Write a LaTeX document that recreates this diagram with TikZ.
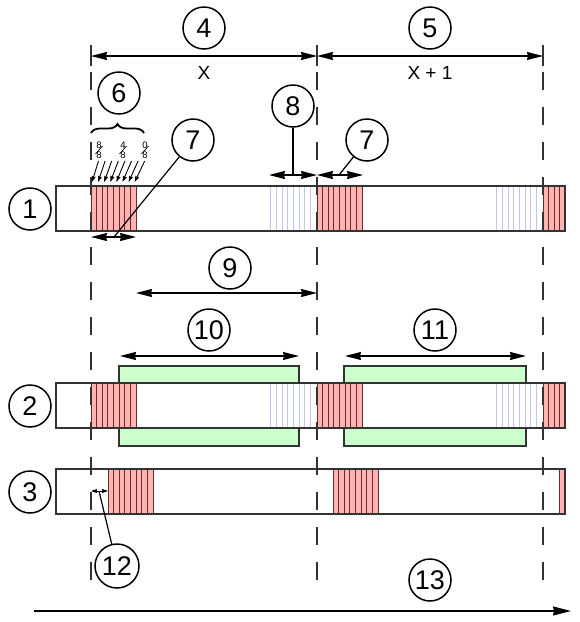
\documentclass[tikz,border=0pt]{standalone}
\usepackage{fontspec}
\setmainfont{Liberation Sans}
\usetikzlibrary{arrows.meta,decorations.pathreplacing,calc}
\definecolor{redfill}{HTML}{FFB3B3}
\definecolor{redline}{HTML}{6B2A2A}
\definecolor{bluel}{HTML}{C4C4EE}
\definecolor{greenfill}{HTML}{CCFFCC}
\definecolor{edgec}{HTML}{333333}
\newcommand\redstripes[5]{\foreach \k in {1,...,#3}{\draw[stripe] ({#1+(\k-1)*#4},#2) rectangle ++(#4,#5);}}
\newcommand\bluelines[3]{\foreach \k in {0,...,7}{\draw[blueline] ({#1+\k*5.7},#2) -- ({#1+\k*5.7},#3);}}
\begin{document}
\begin{tikzpicture}[x=1pt,y=-1pt,
  num/.style={circle,draw=black,line width=1.5pt,minimum size=42pt,inner sep=0pt,fill=white,font=\fontsize{27}{27}\selectfont},
  dimarrow/.style={line width=1.2pt,{Stealth[length=16pt,width=8pt,inset=1pt]}-{Stealth[length=16pt,width=8pt,inset=1pt]}},
  smallarrow/.style={line width=0.9pt,-{Stealth[length=6pt,width=4pt,inset=0.5pt]}},
  tinydim/.style={line width=0.9pt,{Stealth[length=6pt,width=4pt,inset=0.5pt]}-{Stealth[length=6pt,width=4pt,inset=0.5pt]}},
  bigarrow/.style={line width=1.3pt,-{Stealth[length=18pt,width=9pt,inset=1pt]}},
  leader/.style={line width=1.2pt},
  barbox/.style={draw=edgec,line width=1.4pt},
  stripe/.style={fill=redfill,draw=redline,line width=0.9pt},
  blueline/.style={draw=bluel,line width=0.9pt},
  greenbox/.style={fill=greenfill,draw=edgec,line width=1.4pt},
  dashv/.style={draw=edgec,line width=1.2pt,dash pattern=on 18pt off 17pt},
  tickv/.style={draw=edgec,line width=1.2pt},
  lbl/.style={inner sep=0pt,font=\fontsize{19}{19}\selectfont},
  fracd/.style={inner sep=0pt,font=\fontsize{9.5}{9.5}\selectfont}
]
\useasboundingbox (0,0) rectangle (580,622);

% ---------- bar 1 ----------
\redstripes{91}{186}{8}{5.625}{45}
\redstripes{317}{186}{8}{5.625}{45}
\redstripes{543}{186}{4}{5.5}{45}
\bluelines{270.7}{186}{231}
\bluelines{496.7}{186}{231}
\draw[barbox] (56,186) rectangle (565,231);

% ---------- bar 2 ----------
\draw[greenbox] (119,366) rectangle (299,446);
\draw[greenbox] (344,366) rectangle (526,446);
\fill[white] (56,383) rectangle (565,428);
\redstripes{91}{383}{8}{5.625}{45}
\redstripes{317}{383}{8}{5.625}{45}
\redstripes{543}{383}{4}{5.5}{45}
\bluelines{270.7}{383}{428}
\bluelines{496.7}{383}{428}
\draw[barbox] (56,383) rectangle (565,428);

% ---------- bar 3 ----------
\redstripes{108}{469}{8}{5.625}{45}
\redstripes{333}{469}{8}{5.625}{45}
\redstripes{559}{469}{1}{6}{45}
\draw[barbox] (56,469) rectangle (565,514);

% ---------- dashed guides ----------
\foreach \xx in {91,317,543}{
  \draw[tickv] (\xx,45) -- (\xx,66);
  \draw[dashv] (\xx,72) -- (\xx,592);
}

% ---------- top dimensions ----------
\coordinate (p4a) at (91,56);
\coordinate (p4b) at (317,56);
\coordinate (p5b) at (543,56);
\draw[dimarrow] (p4a) -- (p4b);
\draw[dimarrow] (p4b) -- (p5b);
\node[num] (c4) at (204,28) {4};
\node[num] (c5) at (430,28) {5};
\node[lbl] (tx) at (204,73) {X};
\node[lbl] (tx1) at (430,73) {X + 1};

% ---------- row labels ----------
\node[num] (c1) at (30,209) {1};
\node[num] (c2) at (30,406) {2};
\node[num] (c3) at (30,492) {3};

% ---------- 6: brace, fractions, arrows ----------
\node[num] (c6) at (119,93) {6};
\draw[line width=1.8pt,decorate,decoration={brace,amplitude=9pt}] (91,133) -- (144,133);
\foreach \fx/\nn/\dd [count=\q] in {99/8/8,123/4/8,145/0/8}{
  \node[fracd] (ft\q) at (\fx,145) {\nn};
  \node[fracd] (fb\q) at (\fx,155) {\dd};
  \draw[line width=0.7pt] ($(\fx,150)+(-3.5,4)$) -- ($(\fx,150)+(3.5,-4)$);
}
\foreach \i in {0,...,7}{
  \coordinate (fs\i) at ({98.5+6.6*\i},161);
  \coordinate (fe\i) at ({92+6.1*\i},182);
  \draw[smallarrow] (fs\i) -- (fe\i);
}

% ---------- 7 (first) ----------
\coordinate (p7a) at (91,237);
\coordinate (p7b) at (136,237);
\coordinate (p7m) at (114,237);
\draw[dimarrow] (p7a) -- (p7b);
\node[num] (c7a) at (193,140) {7};
\draw[leader] (c7a) -- (p7m);

% ---------- 8 ----------
\coordinate (p8a) at (269,175);
\coordinate (p8b) at (317,175);
\coordinate (p8m) at (293,175);
\draw[dimarrow] (p8a) -- (p8b);
\node[num] (c8) at (293,106) {8};
\draw[leader] (c8) -- (p8m);

% ---------- 7 (second) ----------
\coordinate (p7c) at (317,175);
\coordinate (p7d) at (363,175);
\coordinate (p7n) at (339,175);
\draw[dimarrow] (p7c) -- (p7d);
\node[num] (c7b) at (367,140) {7};
\draw[leader] (c7b) -- (p7n);

% ---------- 9 ----------
\coordinate (p9a) at (136,293);
\coordinate (p9b) at (317,293);
\draw[dimarrow] (p9a) -- (p9b);
\node[num] (c9) at (230,268) {9};

% ---------- 10, 11 ----------
\coordinate (p10a) at (120,356);
\coordinate (p10b) at (299,356);
\draw[dimarrow] (p10a) -- (p10b);
\node[num] (c10) at (209,330) {10};
\coordinate (p11a) at (345,356);
\coordinate (p11b) at (526,356);
\draw[dimarrow] (p11a) -- (p11b);
\node[num] (c11) at (435,330) {11};

% ---------- 12 ----------
\coordinate (p12a) at (91,491);
\coordinate (p12b) at (108,491);
\coordinate (p12m) at (99,491);
\draw[tinydim] (p12a) -- (p12b);
\node[num,minimum size=44pt] (c12) at (117,566) {12};
\draw[leader] (c12) -- (p12m);

% ---------- 13 ----------
\coordinate (p13a) at (34,611);
\coordinate (p13b) at (571,611);
\draw[bigarrow] (p13a) -- (p13b);
\node[num] (c13) at (430,580) {13};
\end{tikzpicture}
\end{document}
